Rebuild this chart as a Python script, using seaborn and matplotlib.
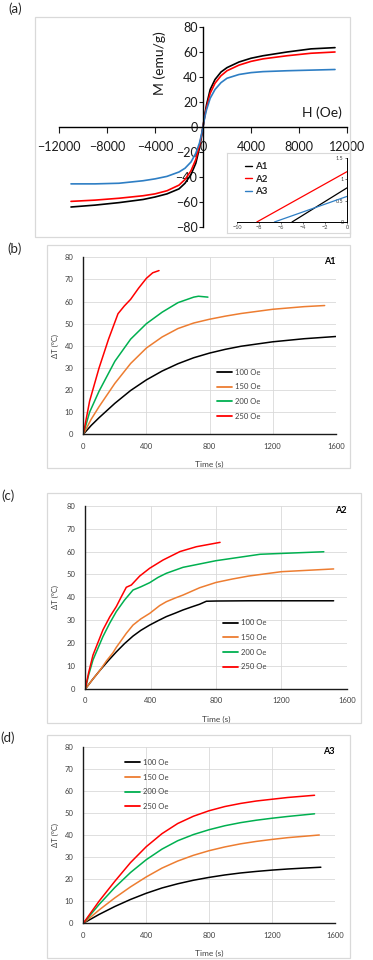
import numpy as np
import pandas as pd
import matplotlib
matplotlib.use("Agg")
import matplotlib.pyplot as plt
from matplotlib.lines import Line2D
from matplotlib.patches import Rectangle
import seaborn as sns

# ---- (a) magnetization curves ----
field_h = [-11000, -9000, -7000, -5000, -4000, -3000, -2000, -1500, -1000, -600, -300, -150,
           0, 150, 300, 600, 1000, 1500, 2000, 3000, 4000, 5000, 7000, 9000, 11000]
m_a1 = [-64, -62.5, -60.5, -58, -56, -53.5, -49.5, -45, -38, -29, -17, -9,
        0, 10, 18, 30, 38, 44, 47.5, 52, 55, 57, 60, 62.5, 63.5]
m_a2 = [-59.5, -58.5, -57, -55, -53.5, -51, -46.5, -42, -35, -26, -15, -8,
        0, 9, 16, 27, 35, 41, 45, 49.5, 52.5, 54.5, 57, 59, 60]
m_a3 = [-45.5, -45.5, -45, -43, -41.5, -39.5, -36, -33, -28, -21, -13, -7,
        0, 8, 14, 23, 30, 35.5, 39, 42, 43.5, 44.3, 45, 45.5, 46]

# inset (near origin)
inset_h_a1 = [-5.0, 0]
inset_m_a1 = [0, 0.8]
inset_h_a2 = [-8.2, 0]
inset_m_a2 = [0, 1.18]
inset_h_a3 = [-6.6, 0]
inset_m_a3 = [0, 0.6]

samples = ["A1", "A2", "A3"]
sample_colors = ["#000000", "#FF0000", "#2E7EC4"]

# ---- heating curves ----
fields = ["100 Oe", "150 Oe", "200 Oe", "250 Oe"]
field_colors = ["#000000", "#ED7D31", "#00B050", "#FF0000"]

# A1
t_b_100 = [0, 50, 100, 200, 300, 400, 500, 600, 700, 800, 900, 1000, 1200, 1400, 1600]
dT_b_100 = [0, 4, 7.5, 14, 19.8, 24.6, 28.6, 31.9, 34.6, 36.7, 38.4, 39.8, 41.8, 43.2, 44.2]
t_b_150 = [0, 50, 100, 200, 300, 400, 500, 600, 700, 800, 900, 1000, 1200, 1400, 1530]
dT_b_150 = [0, 6.8, 12.5, 23, 32, 39, 44, 47.8, 50.3, 52, 53.4, 54.6, 56.5, 57.7, 58.2]
t_b_200 = [0, 40, 100, 200, 300, 400, 500, 600, 700, 730, 790]
dT_b_200 = [0, 10, 19.5, 33, 43, 50, 55.2, 59.5, 62, 62.4, 62]
t_b_250 = [0, 40, 100, 160, 220, 260, 300, 350, 400, 440, 480]
dT_b_250 = [0, 15, 30, 43, 54.5, 58, 61, 66, 70.5, 73, 74]

# A2
t_c_100 = [0, 45, 88, 140, 190, 240, 292, 340, 394, 445, 496, 550, 598, 650, 700, 741, 800, 1000, 1520]
dT_c_100 = [0, 4.2, 8, 12.3, 16.2, 19.8, 23.1, 25.6, 27.9, 29.8, 31.6, 33.1, 34.5, 35.8, 37, 38.3, 38.4, 38.5, 38.5]
t_c_150 = [0, 45, 88, 130, 169, 190, 220, 251, 292, 340, 394, 455, 496, 550, 598, 700, 800, 900, 1000, 1200, 1520]
dT_c_150 = [0, 4.2, 8, 12.3, 15.8, 18.2, 21.2, 24.3, 27.9, 30.6, 33, 36.4, 38.1, 39.7, 41, 44.2, 46.5, 48, 49.3, 51.2, 52.4]
t_c_200 = [0, 20, 47, 108, 150, 190, 240, 292, 340, 394, 445, 496, 598, 800, 1070, 1460]
dT_c_200 = [0, 6, 12.7, 22.9, 28.8, 33.8, 38.8, 43.2, 44.6, 46.4, 48.7, 50.5, 53.1, 56, 58.8, 59.9]
t_c_250 = [0, 20, 47, 108, 150, 190, 220, 251, 282, 333, 394, 476, 580, 680, 825]
dT_c_250 = [0, 7, 14.8, 25.8, 31.5, 36, 40.2, 44.4, 45.4, 49.3, 52.7, 56.3, 60, 62.1, 64]

# A3
t_d_100 = [0, 100, 200, 300, 400, 500, 600, 700, 800, 900, 1000, 1100, 1200, 1300, 1400, 1510]
dT_d_100 = [0, 4, 7.6, 10.8, 13.6, 16, 17.9, 19.5, 20.8, 21.9, 22.8, 23.5, 24.1, 24.6, 25, 25.4]
t_d_150 = [0, 100, 200, 300, 400, 500, 600, 700, 800, 900, 1000, 1100, 1200, 1300, 1400, 1500]
dT_d_150 = [0, 6, 11.5, 16.5, 21, 25, 28.2, 30.8, 32.9, 34.6, 36, 37.1, 38, 38.8, 39.4, 40]
t_d_200 = [0, 100, 200, 300, 400, 500, 600, 700, 800, 900, 1000, 1100, 1200, 1300, 1470]
dT_d_200 = [0, 8.5, 16.2, 23, 28.8, 33.6, 37.4, 40.2, 42.4, 44.2, 45.6, 46.7, 47.6, 48.4, 49.6]
t_d_250 = [0, 100, 200, 300, 400, 500, 600, 700, 800, 900, 1000, 1100, 1200, 1300, 1470]
dT_d_250 = [0, 10, 19, 27.5, 34.7, 40.6, 45.2, 48.5, 51, 52.9, 54.3, 55.4, 56.2, 57, 58]

sns.set_theme(style="white")
plt.rcParams["font.family"] = ["Lato", "DejaVu Sans"]

W, H = 373, 960
fig = plt.figure(figsize=(W / 100, H / 100), dpi=100)


def px_rect(x0, y0, x1, y1):
    """pixel box (top-left origin) -> figure fraction rect"""
    return [x0 / W, 1 - y1 / H, (x1 - x0) / W, (y1 - y0) / H]


def frame(x0, y0, x1, y1):
    l, b, w, h = px_rect(x0, y0, x1, y1)
    fig.add_artist(Rectangle((l, b), w, h, transform=fig.transFigure,
                             fill=False, ec="#d9d9d9", lw=0.9))


def long_frame(pairs, names):
    parts = []
    for (t, v), name in zip(pairs, names):
        parts.append(pd.DataFrame({"t": t, "v": v, "s": name}))
    return pd.concat(parts, ignore_index=True)


# ---------------- (a) ----------------
frame(35, 17, 350, 237)
ax = fig.add_axes(px_rect(59, 27, 347, 227))
df_a = long_frame([(field_h, m_a1), (field_h, m_a2), (field_h, m_a3)], samples)
sns.lineplot(data=df_a, x="t", y="v", hue="s", palette=sample_colors, ax=ax,
             estimator=None, sort=False, lw=1.2, legend=False)
ax.set_xlim(-12000, 12000)
ax.set_ylim(-80, 80)
ax.set_xticks(range(-12000, 12001, 4000))
ax.set_yticks(range(-80, 81, 20))
ax.spines["left"].set_position(("data", 0))
ax.spines["bottom"].set_position(("data", 0))
ax.spines["top"].set_visible(False)
ax.spines["right"].set_visible(False)
for s in ("left", "bottom"):
    ax.spines[s].set_color("#000000")
    ax.spines[s].set_linewidth(1.0)
ax.tick_params(axis="x", direction="out", length=4, width=0.8, pad=6,
               labelsize=9, colors="#1a1a1a", bottom=True)
ax.tick_params(axis="y", direction="out", length=3, width=0.8, pad=1,
               labelsize=9, colors="#1a1a1a", left=True)
ax.set_xlabel("")
ax.set_ylabel("")
ax.patch.set_alpha(0)
ax.text(0.351, 0.82, "M (emu/g)", transform=ax.transAxes, rotation=90,
        ha="center", va="center", fontsize=10, color="#1a1a1a")
ax.text(0.913, 0.57, "H (Oe)", transform=ax.transAxes,
        ha="center", va="center", fontsize=10, color="#1a1a1a")

# inset
box = fig.add_axes(px_rect(227, 153, 350, 233))
box.set_xticks([])
box.set_yticks([])
box.set_facecolor("white")
for s in box.spines.values():
    s.set_color("#d9d9d9")
    s.set_linewidth(0.8)

axi = fig.add_axes(px_rect(237, 158, 347, 222))
df_i = long_frame([(inset_h_a1, inset_m_a1), (inset_h_a2, inset_m_a2),
                   (inset_h_a3, inset_m_a3)], samples)
sns.lineplot(data=df_i, x="t", y="v", hue="s", palette=sample_colors, ax=axi,
             estimator=None, sort=False, lw=0.9, legend=False)
axi.set_xlim(-10, 0)
axi.set_ylim(0, 1.5)
axi.set_xticks(range(-10, 1, 2))
axi.set_yticks([0, 0.5, 1, 1.5])
axi.set_yticklabels(["0", "0.5", "1", "1.5"])
axi.spines["left"].set_position(("data", 0))
axi.spines["top"].set_visible(False)
axi.spines["right"].set_visible(False)
for s in ("left", "bottom"):
    axi.spines[s].set_color("#000000")
    axi.spines[s].set_linewidth(0.7)
axi.tick_params(axis="both", direction="out", length=1.5, width=0.5, pad=1,
                labelsize=4, colors="#404040", bottom=True, left=True)
axi.set_xlabel("")
axi.set_ylabel("")
axi.patch.set_alpha(0)
hs = [Line2D([], [], color=c, lw=1.0) for c in sample_colors]
leg = axi.legend(hs, samples, loc="upper left", bbox_to_anchor=(0.07, 0.93),
                 frameon=False, fontsize=7, handlelength=0.8, handletextpad=0.3,
                 labelspacing=0.35, borderpad=0, borderaxespad=0)
for txt in leg.get_texts():
    txt.set_fontweight("bold")


# ---------------- (b)-(d) ----------------
def heating_panel(rect, series, tag, leg_anchor, xlab_y, ylab_x):
    axh = fig.add_axes(px_rect(*rect))
    d = long_frame(series, fields)
    sns.lineplot(data=d, x="t", y="v", hue="s", palette=field_colors, ax=axh,
                 estimator=None, sort=False, lw=1.1, legend=False)
    axh.set_xlim(0, 1600)
    axh.set_ylim(0, 80)
    axh.set_xticks(range(0, 1601, 400))
    axh.set_yticks(range(0, 81, 10))
    axh.grid(True, color="#d9d9d9", lw=0.6)
    axh.set_axisbelow(True)
    axh.spines["top"].set_visible(False)
    axh.spines["right"].set_visible(False)
    for s in ("left", "bottom"):
        axh.spines[s].set_color("#1a1a1a")
        axh.spines[s].set_linewidth(1.0)
    axh.tick_params(axis="both", length=0, labelsize=5.5, colors="#404040")
    axh.tick_params(axis="x", pad=6)
    axh.tick_params(axis="y", pad=7)
    axh.set_xlabel("Time (s)", fontsize=6, color="#404040")
    axh.set_ylabel("ΔT (ºC)", fontsize=5.5, color="#404040")
    axh.xaxis.set_label_coords(0.5, xlab_y)
    axh.yaxis.set_label_coords(ylab_x, 0.5)
    axh.text(1.0, 1.0, tag, transform=axh.transAxes, ha="right", va="top",
             fontsize=6.5, fontweight="bold", color="#000000")
    hh = [Line2D([], [], color=c, lw=1.3) for c in field_colors]
    axh.legend(hh, fields, loc="upper left", bbox_to_anchor=leg_anchor,
               frameon=False, fontsize=5.5, handlelength=2.0, handletextpad=0.4,
               labelspacing=1.0, borderpad=0, borderaxespad=0,
               labelcolor="#404040")
    return axh


frame(47, 245, 350, 468)
heating_panel((83.3, 257.3, 335.7, 434.3),
              [(t_b_100, dT_b_100), (t_b_150, dT_b_150),
               (t_b_200, dT_b_200), (t_b_250, dT_b_250)],
              "A1", (0.53, 0.37), -0.15, -0.096)

frame(47, 493, 361, 723)
heating_panel((85.3, 505.7, 346.7, 689),
              [(t_c_100, dT_c_100), (t_c_150, dT_c_150),
               (t_c_200, dT_c_200), (t_c_250, dT_c_250)],
              "A2", (0.525, 0.38), -0.147, -0.1)

frame(47, 735, 350, 958)
heating_panel((83.3, 746.7, 335, 923.3),
              [(t_d_100, dT_d_100), (t_d_150, dT_d_150),
               (t_d_200, dT_d_200), (t_d_250, dT_d_250)],
              "A3", (0.165, 0.93), -0.151, -0.095)

# panel letters
for lab, x, y in [("(a)", 15, 9), ("(b)", 15, 249), ("(c)", 8, 496), ("(d)", 8, 738)]:
    fig.text(x / W, 1 - y / H, lab, ha="center", va="center", fontsize=9.5)

fig.savefig("out.png", dpi=100)
